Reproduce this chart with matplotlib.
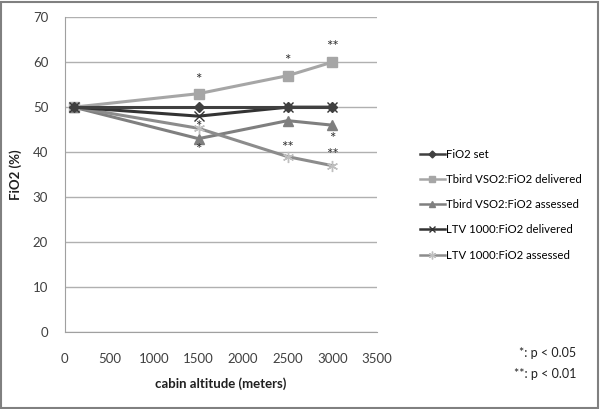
import matplotlib
matplotlib.use('Agg')
import matplotlib.pyplot as plt
from matplotlib.patches import Rectangle

plt.rcParams['font.family'] = ['Lato', 'DejaVu Sans']

# Data
altitude = [100, 1500, 2500, 3000]
fio2_set = [50, 50, 50, 50]
tbird_delivered = [50, 53, 57, 60]
tbird_assessed = [50, 43, 47, 46]
ltv_delivered = [50, 48, 50, 50]
ltv_assessed = [50, 45.3, 39, 37]

# significance marks: (x, y, label)
sig_marks = [
    (1500, 56.0, '*'), (1500, 45.7, '*'), (1500, 40.5, '*'),
    (2500, 60.3, '*'), (2500, 40.9, '**'),
    (3000, 63.3, '**'), (3000, 42.9, '*'), (3000, 39.3, '**'),
]

fig = plt.figure(figsize=(6, 4.09), dpi=100)
ax = fig.add_axes([0.108, 0.188, 0.52, 0.77])

ax.plot(altitude, fio2_set, color='#404040', lw=2.2, marker='D', ms=5, label='FiO2 set', zorder=5)
ax.plot(altitude, tbird_delivered, color='#a6a6a6', lw=2.2, marker='s', ms=7, label='Tbird VSO2:FiO2 delivered', zorder=3)
ax.plot(altitude, tbird_assessed, color='#7f7f7f', lw=2.2, marker='^', ms=7, label='Tbird VSO2:FiO2 assessed', zorder=3)
ax.plot(altitude, ltv_delivered, color='#333333', lw=2.2, marker='x', ms=7, mew=1, label='LTV 1000:FiO2 delivered', zorder=4)
ax.plot(altitude, ltv_assessed, color='#8c8c8c', lw=2.2, marker=(6, 2, 0), ms=8, mew=1,
        mec='#bfbfbf', label='LTV 1000:FiO2 assessed', zorder=3)

for x, y, s in sig_marks:
    ax.text(x, y, s, ha='center', va='center', fontsize=11, color='#303030')

ax.set_xlim(0, 3500)
ax.set_ylim(0, 70)
ax.set_xticks(range(0, 3501, 500))
ax.set_yticks(range(0, 71, 10))
ax.tick_params(length=0, labelsize=9.5, colors='#404040')
ax.tick_params(axis='y', pad=12)
ax.tick_params(axis='x', pad=15)
ax.grid(axis='y', color='#b0b0b0', lw=1)
ax.set_axisbelow(True)
for side in ['top', 'right']:
    ax.spines[side].set_visible(False)
for side in ['left', 'bottom']:
    ax.spines[side].set_color('#a0a0a0')

ax.set_xlabel('cabin altitude (meters)', fontsize=9.5, fontweight='bold', color='#202020', labelpad=9)
ax.set_ylabel('FiO2 (%)', fontsize=9.5, fontweight='bold', color='#202020', labelpad=8)

leg = ax.legend(loc='upper left', bbox_to_anchor=(1.105, 0.615), frameon=False, fontsize=8.2,
                handlelength=2.2, handletextpad=0.1, labelspacing=1.25, markerscale=0.7)
for line in leg.get_lines():
    line.set_linewidth(1.8)

fig.text(0.96, 0.127, '*: p < 0.05', ha='right', fontsize=9, color='#202020')
fig.text(0.96, 0.075, '**: p < 0.01', ha='right', fontsize=9, color='#202020')

fig.patches.append(Rectangle((0.002, 0.003), 0.995, 0.993, transform=fig.transFigure,
                             fill=False, ec='#808080', lw=1.5))

plt.savefig('out.png')
